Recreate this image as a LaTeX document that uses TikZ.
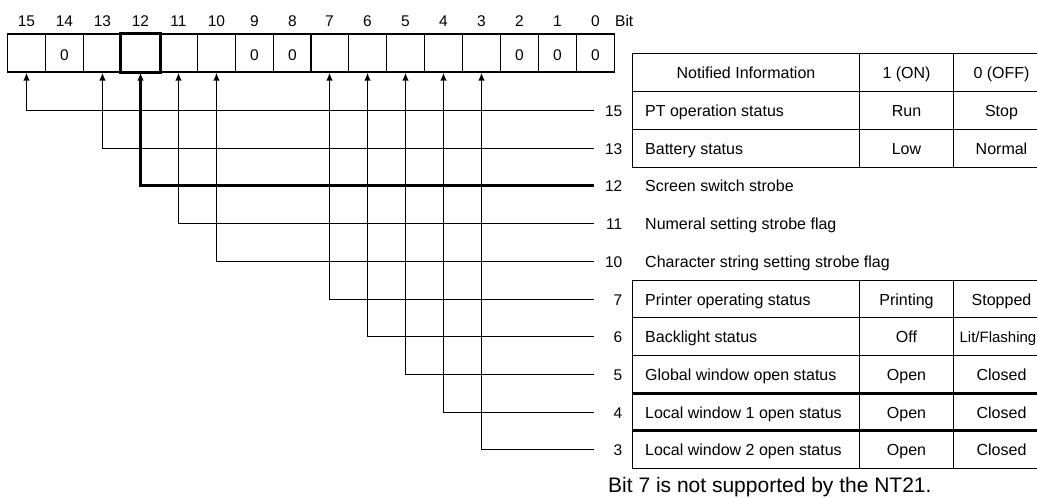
\documentclass[tikz,border=0pt]{standalone}
\usepackage{fontspec}
\setmainfont{Liberation Sans}
\usetikzlibrary{arrows.meta,calc}

\begin{document}
\begin{tikzpicture}[
  x=1pt,y=-1pt,
  bitbox/.style={draw, line width=1.7pt, minimum width=37.875pt,
                 minimum height=37.4pt, inner sep=0pt},
  numtext/.style={font=\fontsize{15.5}{18}\selectfont, inner sep=0pt,
                  text height=11pt, text depth=0pt},
  cell/.style={font=\fontsize{16}{19}\selectfont, inner sep=0pt,
               text height=11.5pt, text depth=0pt},
  flag/.style={{Latex[length=8pt,width=6.5pt]}-, line width=1.7pt},
  tblline/.style={line width=1.7pt},
]
  \useasboundingbox (0,0) rectangle (1037,498);

  % Bit word: 16 boxes with the bit numbers above.
  \foreach \b in {0,...,15} {
    \pgfmathsetmacro\cx{floor(8+(15.5-\b)*37.875)+0.5}
    \node[bitbox] (b\b) at (\cx,53) {};
    \node[numtext] (h\b) at (\cx,21) {\b};
  }
  \node[numtext, anchor=west] (bitlbl) at (615,21) {Bit};
  \foreach \b in {14,9,8,2,1,0} {
    \node[numtext] (z\b) at ($(b\b.center)+(0,1.5)$) {0};
  }
  \draw[line width=3pt] (b12.south west) rectangle (b12.north east);

  % Leader lines from the bits to the numbered rows.
  \foreach \b/\y/\w in {15/110.5/1.7, 13/148.5/1.7, 12/185.5/3,
                        11/223.5/1.7, 10/261.5/1.7, 7/299.5/1.7,
                        6/336.5/1.7, 5/374.5/1.7, 4/412.5/1.7,
                        3/449.5/1.7} {
    \coordinate (e\b) at (594,\y);
    \node[numtext, anchor=east] (n\b) at (622.5,{\y+0.5}) {\b};
    \draw[flag, line width=\w pt] (b\b.south) |- (e\b);
  }

  % Upper table (bits 15 and 13).
  \draw[tblline] (632.5,53.5) rectangle (1052,167.5);
  \draw[tblline] (632.5,91.5) -- (1052,91.5);
  \draw[tblline] (632.5,129.5) -- (1052,129.5);
  \draw[tblline] (859.5,53.5) -- (859.5,167.5);
  \draw[tblline] (953.5,53.5) -- (953.5,167.5);
  \node[cell] (hinfo) at (746,73) {Notified Information};
  \node[cell] (hon) at (906.5,73) {1 (ON)};
  \node[cell] (hoff) at (1001.5,73) {0 (OFF)};

  % Lower table (bits 7 to 3).
  \draw[tblline] (632.5,280.5) rectangle (1052,468.5);
  \draw[tblline] (632.5,317.5) -- (1052,317.5);
  \draw[tblline] (632.5,355.5) -- (1052,355.5);
  \draw[line width=2.2pt] (632.5,393.5) -- (1052,393.5);
  \draw[line width=2.2pt] (632.5,430.5) -- (1052,430.5);
  \draw[tblline] (859.5,280.5) -- (859.5,468.5);
  \draw[tblline] (953.5,280.5) -- (953.5,468.5);

  % Row texts.
  \foreach \b/\y/\info/\on/\off in {
      15/110.5/PT operation status/Run/Stop,
      13/148.5/Battery status/Low/Normal,
      7/299.5/Printer operating status/Printing/Stopped,
      5/374.5/Global window open status/Open/Closed,
      4/412.5/Local window 1 open status/Open/Closed,
      3/449.5/Local window 2 open status/Open/Closed} {
    \node[cell, anchor=west] (t\b) at (645,{\y+0.5}) {\info};
    \node[cell] (on\b) at (906.5,{\y+0.5}) {\on};
    \node[cell] (off\b) at (1001.5,{\y+0.5}) {\off};
  }
  \node[cell, anchor=west] (t6) at (645,337) {Backlight status};
  \node[cell] (on6) at (906.5,337) {Off};
  \node[cell, anchor=east, font=\fontsize{15}{18}\selectfont] (off6)
    at (1036.5,337) {Lit/Flashing};
  \node[cell, anchor=west] (t12) at (645,186) {Screen switch strobe};
  \node[cell, anchor=west] (t11) at (645,224) {Numeral setting strobe flag};
  \node[cell, anchor=west] (t10) at (645,262)
    {Character string setting strobe flag};

  \node[font=\fontsize{21}{24}\selectfont, inner sep=0pt, anchor=base west]
    (note) at (608,492.5) {Bit 7 is not supported by the NT21.};
\end{tikzpicture}
\end{document}
